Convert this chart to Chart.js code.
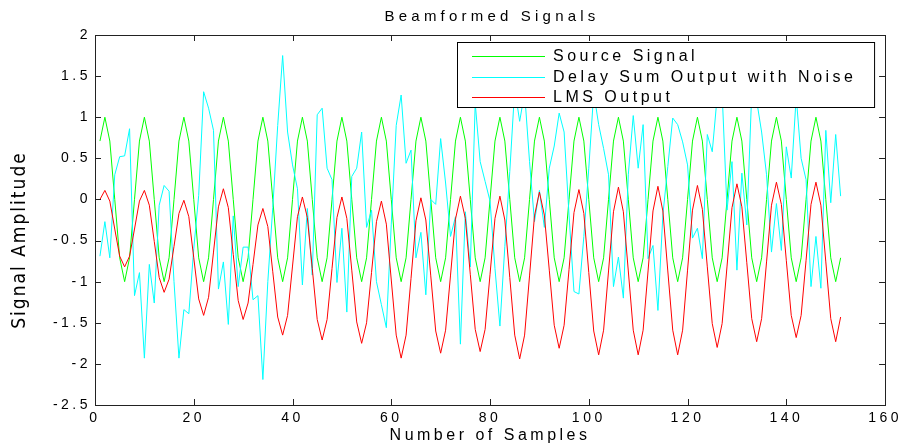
<!DOCTYPE html>
<html>
<head>
<meta charset="utf-8">
<script src="https://cdn.jsdelivr.net/npm/chart.js@4/dist/chart.umd.min.js"></script>
<style>
  body{margin:0;background:#fff;}
  #wrap{width:907px;height:445px;}
</style>
</head>
<body>
<div id="wrap"><canvas id="myChart" width="907" height="445"></canvas></div>
<script>
// values, sample 1..151
const chartTitle = 'Beamformed Signals';
const xTitle = 'Number of Samples';
const yTitle = 'Signal Amplitude';
const seriesNames = ['Source Signal', 'Delay Sum Output with Noise', 'LMS Output'];
const xTicks = [0, 20, 40, 60, 80, 100, 120, 140, 160];
const yTicks = [-2.5, -2, -1.5, -1, -0.5, 0, 0.5, 1, 1.5, 2];

const sourceSignal = [
  0.71, 1, 0.71, 0, -0.71, -1, -0.71, 0,
  0.71, 1, 0.71, 0, -0.71, -1, -0.71, 0,
  0.71, 1, 0.71, 0, -0.71, -1, -0.71, 0,
  0.71, 1, 0.71, 0, -0.71, -1, -0.71, 0,
  0.71, 1, 0.71, 0, -0.71, -1, -0.71, 0,
  0.71, 1, 0.71, 0, -0.71, -1, -0.71, 0,
  0.71, 1, 0.71, 0, -0.71, -1, -0.71, 0,
  0.71, 1, 0.71, 0, -0.71, -1, -0.71, 0,
  0.71, 1, 0.71, 0, -0.71, -1, -0.71, 0,
  0.71, 1, 0.71, 0, -0.71, -1, -0.71, 0,
  0.71, 1, 0.71, 0, -0.71, -1, -0.71, 0,
  0.71, 1, 0.71, 0, -0.71, -1, -0.71, 0,
  0.71, 1, 0.71, 0, -0.71, -1, -0.71, 0,
  0.71, 1, 0.71, 0, -0.71, -1, -0.71, 0,
  0.71, 1, 0.71, 0, -0.71, -1, -0.71, 0,
  0.71, 1, 0.71, 0, -0.71, -1, -0.71, 0,
  0.71, 1, 0.71, 0, -0.71, -1, -0.71, 0,
  0.71, 1, 0.71, 0, -0.71, -1, -0.71, 0,
  0.71, 1, 0.71, 0, -0.71, -1, -0.71
];

const delaySumNoisy = [
  -0.69, -0.27, -0.71, 0.30, 0.52, 0.53, 0.86, -1.17, -0.89, -1.93,
  -0.79, -1.26, -0.07, 0.17, 0.10, -1.00, -1.93, -1.34, -1.39, -0.60,
  0.05, 1.31, 1.11, 0.84, -1.09, -0.76, -1.52, -0.20, -1.06, -0.58,
  -0.58, -1.22, -1.17, -2.19, -1.00, -0.10, 0.90, 1.75, 0.82, 0.42,
  0.13, -1.04, -0.11, -0.92, 1.03, 1.11, 0.38, 0.24, -1.01, -0.35,
  -1.37, 0.28, 0.38, 0.82, -0.34, -0.13, -1.00, -1.28, -1.56, -0.30,
  0.90, 1.27, 0.44, 0.60, -0.71, -0.40, -1.16, 0.00, -0.06, 0.74,
  0.20, -0.45, -0.21, -1.76, -0.15, -0.82, 1.17, 0.46, 0.22, -0.02,
  -0.84, -1.54, -0.57, 0.34, 1.35, 0.95, 1.30, 0.46, -0.27, 0.11,
  -0.34, 0.38, 0.65, 1.05, 0.82, -0.19, -1.12, -1.15, -0.45, 0.38,
  1.30, 0.91, 0.62, 0.30, -1.06, -0.70, -1.20, 0.30, 1.02, 0.38,
  0.91, -0.72, -0.56, -1.35, -0.19, 0.40, 0.99, 0.91, 0.70, 0.42,
  -0.47, -0.35, -0.72, 0.79, 0.58, 1.25, 1.30, -0.13, 0.46, -0.86,
  0.32, -0.31, 1.30, 1.20, 0.82, 0.30, -0.64, -0.05, -0.62, 0.64,
  0.26, 1.25, 0.50, 0.24, -1.06, -0.45, -1.08, 0.84, -0.04, 0.79, 0.04
];

const lmsOutput = [
  0.00, 0.11, -0.02, -0.36, -0.69, -0.82, -0.69, -0.36,
  -0.02, 0.11, -0.07, -0.51, -0.95, -1.13, -0.97, -0.57,
  -0.17, -0.01, -0.21, -0.71, -1.21, -1.41, -1.19, -0.64,
  -0.09, 0.13, -0.10, -0.67, -1.23, -1.46, -1.26, -0.79,
  -0.31, -0.11, -0.33, -0.88, -1.43, -1.65, -1.41, -0.81,
  -0.21, 0.03, -0.22, -0.84, -1.46, -1.71, -1.46, -0.84,
  -0.22, 0.03, -0.23, -0.86, -1.49, -1.75, -1.50, -0.89,
  -0.27, -0.02, -0.30, -0.98, -1.65, -1.93, -1.65, -0.96,
  -0.26, 0.02, -0.25, -0.93, -1.60, -1.87, -1.59, -0.92,
  -0.24, 0.04, -0.23, -0.91, -1.58, -1.85, -1.58, -0.91,
  -0.23, 0.04, -0.25, -0.95, -1.65, -1.94, -1.65, -0.93,
  -0.20, 0.09, -0.19, -0.86, -1.53, -1.81, -1.53, -0.85,
  -0.16, 0.12, -0.17, -0.89, -1.60, -1.89, -1.59, -0.87,
  -0.15, 0.15, -0.15, -0.87, -1.59, -1.89, -1.59, -0.87,
  -0.14, 0.16, -0.14, -0.87, -1.59, -1.89, -1.59, -0.86,
  -0.13, 0.17, -0.12, -0.82, -1.51, -1.80, -1.51, -0.81,
  -0.10, 0.19, -0.09, -0.77, -1.45, -1.73, -1.45, -0.76,
  -0.07, 0.21, -0.06, -0.74, -1.41, -1.68, -1.41, -0.74,
  -0.06, 0.21, -0.07, -0.76, -1.45, -1.73, -1.43
];

const lineColors = ['#00ff00', '#00ffff', '#ff0000'];
const FONT = "'Liberation Sans', Arial, sans-serif";
const SPACING = '3.5px';

// sample number of each value (1-based like the original)
const toPoints = arr => arr.map((v, i) => ({x: i + 1, y: v}));

// the exported figure has widely spaced glyphs
const spacing = {
  id: 'spacing',
  beforeUpdate(chart) { chart.ctx.letterSpacing = SPACING; },
  beforeDraw(chart) { chart.ctx.letterSpacing = SPACING; }
};

// legend box sitting inside the axes, top right
const boxLegend = {
  id: 'boxLegend',
  afterDatasetsDraw(chart) {
    const ctx = chart.ctx, a = chart.chartArea;
    const left = a.left + 362, right = a.right - 11, top = a.top + 7, bottom = a.top + 72;
    ctx.save();
    ctx.fillStyle = '#fff';
    ctx.fillRect(left, top, right - left, bottom - top);
    ctx.strokeStyle = '#000';
    ctx.lineWidth = 1;
    ctx.strokeRect(left + 0.5, top + 0.5, right - left, bottom - top);
    ctx.font = '16px ' + FONT;
    ctx.textBaseline = 'middle';
    chart.data.datasets.forEach((ds, i) => {
      const y = top + 14 + i * 20.5;
      ctx.strokeStyle = ds.borderColor;
      ctx.lineWidth = 1;
      ctx.beginPath();
      ctx.moveTo(left + 15, Math.round(y) + 0.5);
      ctx.lineTo(left + 88, Math.round(y) + 0.5);
      ctx.stroke();
      ctx.fillStyle = '#000';
      ctx.fillText(ds.label, left + 96, y + 1);
    });
    ctx.restore();
  }
};

// matlab style box with inward ticks on all four sides, title over the axes, rotated y label
const axesBox = {
  id: 'axesBox',
  afterDraw(chart) {
    const ctx = chart.ctx, a = chart.chartArea;
    const xs = chart.scales.x, ys = chart.scales.y;
    const tl = 6;
    ctx.save();
    ctx.strokeStyle = '#222';
    ctx.lineWidth = 1;
    ctx.strokeRect(Math.round(a.left) + 0.5, Math.round(a.top) + 0.5,
      Math.round(a.right - a.left), Math.round(a.bottom - a.top));
    ctx.beginPath();
    xTicks.forEach(t => {
      const px = Math.round(xs.getPixelForValue(t)) + 0.5;
      ctx.moveTo(px, a.bottom); ctx.lineTo(px, a.bottom - tl);
      ctx.moveTo(px, a.top); ctx.lineTo(px, a.top + tl);
    });
    yTicks.forEach(t => {
      const py = Math.round(ys.getPixelForValue(t)) + 0.5;
      ctx.moveTo(a.left, py); ctx.lineTo(a.left + tl, py);
      ctx.moveTo(a.right, py); ctx.lineTo(a.right - tl, py);
    });
    ctx.stroke();

    ctx.fillStyle = '#000';
    ctx.textAlign = 'center';
    ctx.textBaseline = 'middle';
    ctx.font = '15px ' + FONT;
    ctx.letterSpacing = '4.2px';
    ctx.fillText(chartTitle, (a.left + a.right) / 2 + 2, 17);

    ctx.translate(20, 240);
    ctx.rotate(-Math.PI / 2);
    ctx.font = "19px 'Liberation Sans Narrow', 'DejaVu Sans Condensed', sans-serif";
    ctx.letterSpacing = '2px';
    ctx.fillText(yTitle, 0, 0);
    ctx.restore();
  }
};

Chart.defaults.color = '#000';
Chart.defaults.font.family = FONT;

const ctx = document.getElementById('myChart').getContext('2d');
const myChart = new Chart(ctx, {
  type: 'line',
  data: {
    datasets: [
      {label: seriesNames[0], data: toPoints(sourceSignal), borderColor: lineColors[0], order: 3},
      {label: seriesNames[1], data: toPoints(delaySumNoisy), borderColor: lineColors[1], order: 2},
      {label: seriesNames[2], data: toPoints(lmsOutput), borderColor: lineColors[2], order: 1}
    ]
  },
  options: {
    responsive: false,
    animation: false,
    elements: {
      line: {borderWidth: 1, tension: 0, fill: false},
      point: {radius: 0}
    },
    layout: {padding: {left: 0, right: 21, top: 35, bottom: 0}},
    plugins: {
      legend: {display: false},
      tooltip: {enabled: false},
      title: {display: false}
    },
    scales: {
      x: {
        type: 'linear',
        min: 0, max: 160,
        afterBuildTicks: s => { s.ticks = xTicks.map(v => ({value: v})); },
        afterFit: s => { s.height = 40; },
        grid: {display: false, drawTicks: false},
        border: {display: false},
        ticks: {padding: 5, font: {size: 14}, maxRotation: 0, callback: v => String(v)},
        title: {display: true, text: xTitle, font: {size: 16}, padding: {top: 0, bottom: 0}}
      },
      y: {
        min: -2.5, max: 2,
        afterBuildTicks: s => { s.ticks = yTicks.map(v => ({value: v})); },
        afterFit: s => { s.width = 95; },
        grid: {display: false, drawTicks: false},
        border: {display: false},
        ticks: {padding: 4, font: {size: 14}, callback: v => String(v)}
      }
    }
  },
  plugins: [spacing, boxLegend, axesBox]
});
</script>
</body>
</html>
